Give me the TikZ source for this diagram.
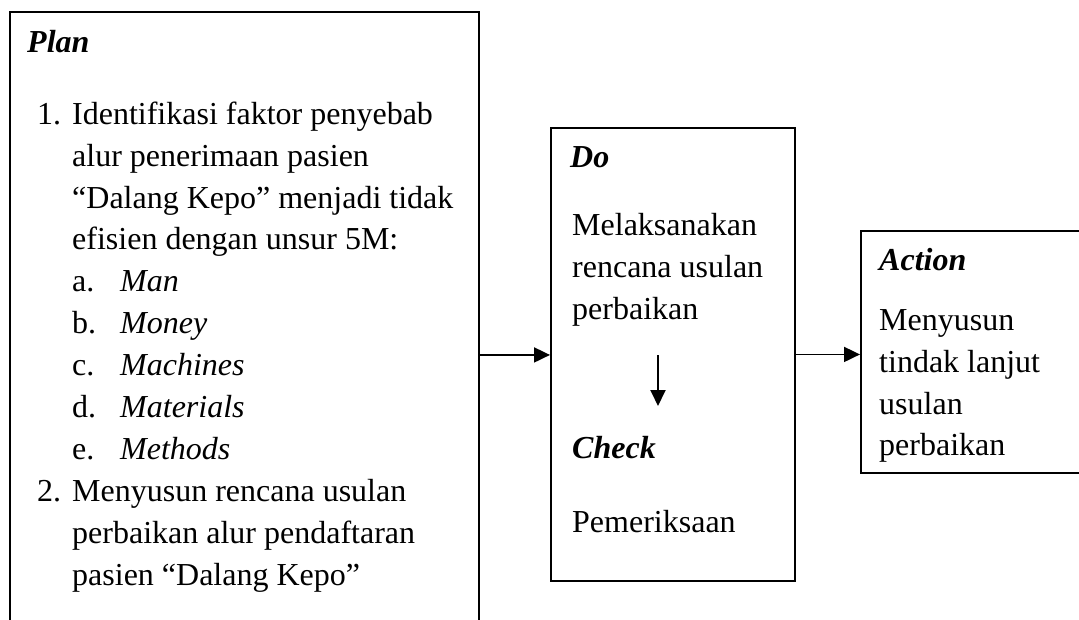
\documentclass[tikz,border=0pt]{standalone}
\usepackage{fontspec}
\setmainfont{Liberation Serif}
\usetikzlibrary{arrows.meta}
\tikzset{
  box/.style={draw=black, line width=1.9pt, fill=none, inner sep=0pt, anchor=north west},
  txt/.style={anchor=north west, inner sep=0pt, align=left, font=\fontsize{32}{41.9}\selectfont},
  flow/.style={line width=1.9pt, -{Triangle[length=16pt,width=15pt]}}
}
\newcommand{\hd}[1]{\textbf{\textit{#1}}}
\begin{document}
\begin{tikzpicture}[x=1pt,y=-1pt]
\useasboundingbox (0,0) rectangle (1079,620);
\clip (0,0) rectangle (1079,620);
\fill[white] (0,0) rectangle (1079,620);
% boxes
\node[box, minimum width=469pt, minimum height=686pt] (plan) at (9,11) {};
\node[box, minimum width=244pt, minimum height=453pt] (do) at (550,127) {};
\node[box, minimum width=260pt, minimum height=242pt] (action) at (860,230) {};
% texts
\node[txt] (plantitle) at (27,{52-29.3}) {\strut\hd{Plan}};
\node[txt] (planlist) at (37,{124-29.3}) {\strut\makebox[35pt][l]{1.}Identifikasi faktor penyebab\\
\hspace*{35pt}alur penerimaan pasien\\
\hspace*{35pt}“Dalang Kepo” menjadi tidak\\
\hspace*{35pt}efisien dengan unsur 5M:\\
\hspace*{35pt}\makebox[48pt][l]{a.}\textit{Man}\\
\hspace*{35pt}\makebox[48pt][l]{b.}\textit{Money}\\
\hspace*{35pt}\makebox[48pt][l]{c.}\textit{Machines}\\
\hspace*{35pt}\makebox[48pt][l]{d.}\textit{Materials}\\
\hspace*{35pt}\makebox[48pt][l]{e.}\textit{Methods}\\
\makebox[35pt][l]{2.}Menyusun rencana usulan\\
\hspace*{35pt}perbaikan alur pendaftaran\\
\hspace*{35pt}pasien “Dalang Kepo”};
\node[txt] (dotitle) at (570,{167-29.3}) {\strut\hd{Do}};
\node[txt] (dobody) at (572,{235-29.3}) {\strut Melaksanakan\\rencana usulan\\perbaikan};
\node[txt] (checktitle) at (572,{458-29.3}) {\strut\hd{Check}};
\node[txt] (checkbody) at (572,{532-29.3}) {\strut Pemeriksaan};
\node[txt] (actiontitle) at (879,{270-29.3}) {\strut\hd{Action}};
\node[txt] (actionbody) at (879,{330-29.3}) {\strut Menyusun\\tindak lanjut\\usulan\\perbaikan};
% connectors
\coordinate (dtop) at (658,355);
\coordinate (dbot) at (658,406);
\draw[flow] (plan.east) -- (plan.east -| do.west);
\draw[flow] (do.east) -- (do.east -| action.west);
\draw[flow] (dtop) -- (dbot);
\end{tikzpicture}
\end{document}
